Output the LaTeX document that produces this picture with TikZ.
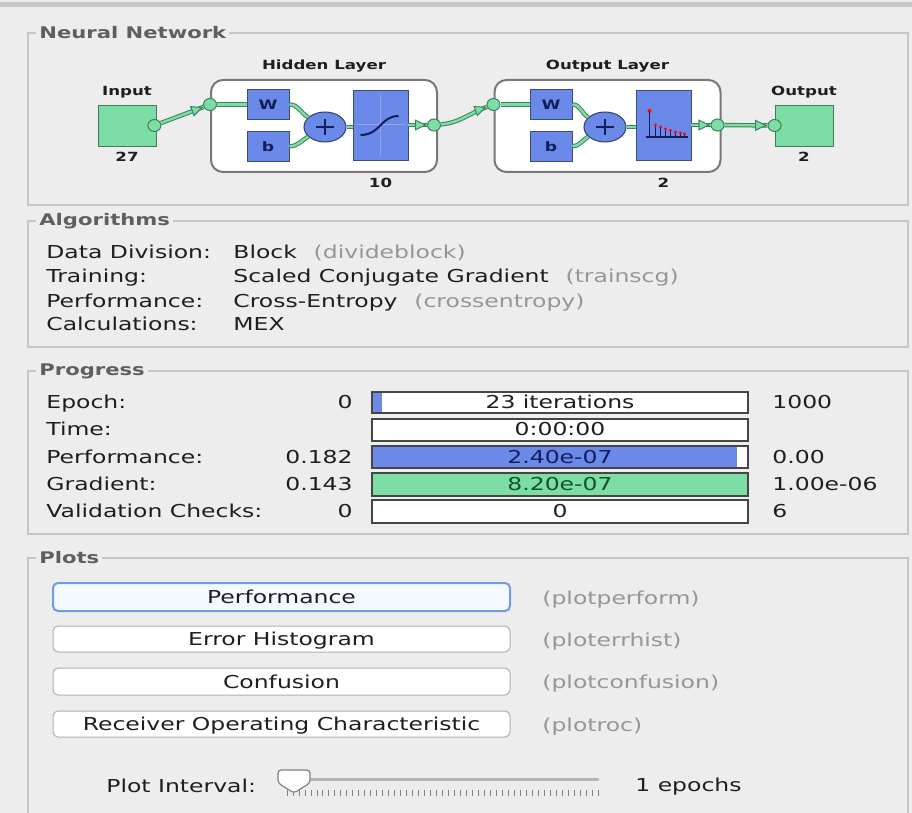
\documentclass[tikz,border=0pt]{standalone}
\usepackage{fontspec}
\usepackage{xcolor}
\usepackage{tikz}
\usetikzlibrary{
    shapes,
    positioning
}
\usetikzlibrary{arrows.meta,decorations.markings}
\newfontfamily\uifont[FakeStretch=1.32]{DejaVu Sans}

\definecolor{winbg}{RGB}{237,237,237}
\definecolor{etch}{RGB}{198,198,198}
\definecolor{topbar}{RGB}{200,200,200}
\definecolor{txtdark}{RGB}{30,30,30}
\definecolor{txtgray}{RGB}{150,150,150}
\definecolor{titlegray}{RGB}{95,95,95}
\definecolor{nngreen}{RGB}{124,222,165}
\definecolor{nnblue}{RGB}{106,137,232}
\definecolor{nnnavy}{RGB}{20,30,90}
\definecolor{wireedge}{RGB}{60,130,90}
\definecolor{layergray}{RGB}{120,120,120}
\definecolor{bardark}{RGB}{70,70,70}
\definecolor{btngray}{RGB}{175,175,175}
\definecolor{btnblue}{RGB}{110,155,225}
\definecolor{btnfill}{RGB}{244,249,255}
\definecolor{gradtext}{RGB}{20,80,40}
\definecolor{slidergray}{RGB}{180,180,180}

\tikzset{panel/.style={
    draw=etch,
    line width=0.7pt,
}}
\tikzset{paneltitle/.style={
    fill=winbg,
    text=titlegray,
    font=\uifont\bfseries\fontsize{8}{9}\selectfont,
    inner sep=1.5pt,
    anchor=west,
}}
\tikzset{lbl/.style={
    text=txtdark,
    font=\uifont\fontsize{8.9}{10}\selectfont,
    inner sep=0pt,
    anchor=base west,
}}
\tikzset{fname/.style={
    lbl,
    text=txtgray,
}}
\tikzset{val/.style={
    lbl,
    anchor=base east,
}}
\tikzset{bartext/.style={
    lbl,
    anchor=base,
}}
\tikzset{bar/.style={
    draw=bardark,
    fill=white,
    line width=0.6pt,
}}
\tikzset{button/.style={
    draw=btngray,
    fill=white,
    line width=0.5pt,
    rounded corners=2.5pt,
}}
\tikzset{nnlabel/.style={
    text=txtdark,
    font=\uifont\bfseries\fontsize{6.3}{7}\selectfont,
    inner sep=1pt,
}}
\tikzset{iobox/.style={
    draw=nngreen!55!black,
    fill=nngreen,
    line width=0.4pt,
    minimum width=29pt,
    minimum height=20.5pt,
}}
\tikzset{layer/.style={
    draw=layergray,
    fill=white,
    line width=1pt,
    rounded corners=6pt,
    minimum width=113pt,
    minimum height=46pt,
}}
\tikzset{weight/.style={
    draw=nnblue!55!black,
    fill=nnblue,
    line width=0.4pt,
    minimum width=21pt,
    minimum height=15pt,
    inner sep=0pt,
    text=nnnavy,
    font=\uifont\bfseries\fontsize{6.5}{7}\selectfont,
}}
\tikzset{transfer/.style={
    weight,
    minimum width=27.5pt,
    minimum height=35pt,
}}
\tikzset{sum/.style={
    ellipse,
    draw=nnblue!45!black,
    fill=nnblue,
    line width=0.5pt,
    minimum width=21pt,
    minimum height=15pt,
    inner sep=0pt,
}}
\tikzset{plusmark/.style={
    draw=nnnavy,
    line width=0.9pt,
}}
\tikzset{port/.style={
    ellipse,
    draw=wireedge,
    fill=nngreen,
    line width=0.5pt,
    minimum width=6.5pt,
    minimum height=6pt,
    inner sep=0pt,
}}
\tikzset{wire/.style={
    draw=wireedge,
    line width=2.2pt,
    postaction={draw=nngreen, line width=1.2pt},
}}
\tikzset{tipped/.style={
    postaction={decorate, decoration={markings,
        mark=at position 0.99 with {\arrow{Triangle[length=6pt,width=5.5pt,line width=0.5pt,color=wireedge,fill=nngreen]}}}},
}}
\tikzset{axisline/.style={
    draw=nnblue!75!white,
    line width=0.5pt,
}}
\tikzset{sigmoid/.style={
    draw=nnnavy,
    line width=1pt,
}}
\tikzset{stem/.style={
    draw=nnnavy,
    line width=0.6pt,
}}

\begin{document}
\begin{tikzpicture}[x=0.5pt, y=-0.5pt]
    \clip (0,0) rectangle (912,813);
    \fill[winbg] (0,0) rectangle (912,813);
    \fill[topbar] (0,2) rectangle (912,7);

    % group boxes
    \draw[panel] (28,33) rectangle (908,205);
    \draw[panel] (28,221) rectangle (908,347);
    \draw[panel] (28,371) rectangle (908,534);
    \draw[panel] (28,558) rectangle (908,840);
    \node[paneltitle] (nntitle) at (36,33) {Neural Network};
    \node[paneltitle] (algotitle) at (36,221) {Algorithms};
    \node[paneltitle] (progtitle) at (36,371) {Progress};
    \node[paneltitle] (plotstitle) at (36,558) {Plots};

    % network
    \node[iobox] (input) at (127,125.5) {};
    \node[nnlabel, above=2pt of input] (inputlbl) {Input};
    \node[nnlabel, below=1.5pt of input] (inputsize) {27};

    \node[layer] (hidden) at (324,126) {};
    \node[nnlabel, above=2pt of hidden] (hiddenlbl) {Hidden Layer};
    \node[weight] (w1) at (268,104.5) {W};
    \node[weight, below=5.5pt of w1] (b1) {b};
    \node[sum] (plus1) at (325,127) {};
    \node[transfer] (tf1) at (380.5,125) {};
    \node[nnlabel, below=1.5pt] (hiddensize) at (tf1 |- hidden.south) {10};

    \node[layer] (outlayer) at (607.5,126) {};
    \node[nnlabel, above=2pt of outlayer] (outlayerlbl) {Output Layer};
    \node[weight] (w2) at (551,104.5) {W};
    \node[weight, below=5.5pt of w2] (b2) {b};
    \node[sum] (plus2) at (605,127) {};
    \node[transfer] (tf2) at (663.5,125) {};
    \node[nnlabel, below=1.5pt] (outlayersize) at (tf2 |- outlayer.south) {2};

    \node[iobox] (output) at (804,125.5) {};
    \node[nnlabel, above=2pt of output] (outputlbl) {Output};
    \node[nnlabel, below=1.5pt of output] (outputsize) {2};

    \node[port, xshift=-1pt] (inport) at (input.east) {};
    \node[port] (hin) at (hidden.west |- w1) {};
    \node[port, xshift=-2pt] (hout) at (hidden.east |- tf1) {};
    \node[port] (oin) at (outlayer.west |- w2) {};
    \node[port, xshift=-2pt] (oout) at (outlayer.east |- tf2) {};
    \node[port] (outport) at (output.west) {};

    \draw[wire, tipped] (inport) -- (hin);
    \draw[wire] (hin) -- (w1);
    \draw[wire] (w1.east) to[out=0, in=150] (plus1);
    \draw[wire] (b1.east) to[out=0, in=-150] (plus1);
    \draw[wire] (plus1) -- (tf1.west |- plus1);
    \draw[wire, tipped] (tf1) -- (hout);
    \draw[wire, tipped] (hout) to[out=5, in=200] (oin);
    \draw[wire] (oin) -- (w2);
    \draw[wire] (w2.east) to[out=0, in=150] (plus2);
    \draw[wire] (b2.east) to[out=0, in=-150] (plus2);
    \draw[wire] (plus2) -- (tf2.west |- plus2);
    \draw[wire, tipped] (tf2) -- (oout);
    \draw[wire, tipped] (oout) -- (outport);

    \draw[plusmark] ([xshift=-4.5pt]plus1.center) -- ([xshift=4.5pt]plus1.center);
    \draw[plusmark] ([yshift=-4pt]plus1.center) -- ([yshift=4pt]plus1.center);
    \draw[plusmark] ([xshift=-4.5pt]plus2.center) -- ([xshift=4.5pt]plus2.center);
    \draw[plusmark] ([yshift=-4pt]plus2.center) -- ([yshift=4pt]plus2.center);

    % tansig icon
    \begin{scope}[shift={(tf1.center)}]
        \draw[axisline] (-24,0) -- (24,0);
        \draw[axisline] (0,-30) -- (0,30);
        \draw[sigmoid] (-20,10) .. controls (0,10) and (0,-9) .. (18,-9);
    \end{scope}

    % softmax icon
    \begin{scope}[shift={(tf2.center)}]
        \draw[stem] (-18,12) -- (24,12);
        \draw[stem] (-14,12) -- (-14,-14);
        \fill[red] (-14,-14) circle (2);
        \foreach \sx/\sy in {-8/0, -3/2, 2/4, 7/5.5, 12/7, 17/8, 21/9} {
            \draw[stem] (\sx,12) -- (\sx,\sy);
            \fill[red] (\sx,\sy) circle (1.6);
        }
    \end{scope}

    % algorithms
    \node[lbl] (divlbl) at (46,259) {Data Division:};
    \node[lbl] (divval) at (233,259) {Block};
    \node[fname, base right=8pt of divval] (divfn) {(divideblock)};
    \node[lbl] (trainlbl) at (46,283) {Training:};
    \node[lbl] (trainval) at (233,283) {Scaled Conjugate Gradient};
    \node[fname, base right=8pt of trainval] (trainfn) {(trainscg)};
    \node[lbl] (perflbl) at (46,307) {Performance:};
    \node[lbl] (perfval) at (233,307) {Cross-Entropy};
    \node[fname, base right=8pt of perfval] (perffn) {(crossentropy)};
    \node[lbl] (calclbl) at (46,331) {Calculations:};
    \node[lbl] (calcval) at (233,331) {MEX};

    % progress
    \draw[bar] (372,392) rectangle (748,413);
    \fill[nnblue] (372.6,392.6) rectangle (382,412.4);
    \draw[bar] (372,419) rectangle (748,441);
    \draw[bar] (372,446) rectangle (748,468);
    \fill[nnblue] (372.6,446.6) rectangle (737,467.4);
    \draw[bar, fill=nngreen] (372,473) rectangle (748,496);
    \draw[bar] (372,500) rectangle (748,523);

    \node[lbl] (epochlbl) at (46,408.5) {Epoch:};
    \node[val] (epochmin) at (353,408.5) {0};
    \node[bartext] (epochbar) at (560,408.5) {23 iterations};
    \node[lbl] (epochmax) at (772,408.5) {1000};

    \node[lbl] (timelbl) at (46,436) {Time:};
    \node[bartext] (timebar) at (560,436) {0:00:00};

    \node[lbl] (plbl) at (46,463) {Performance:};
    \node[val] (pmin) at (353,463) {0.182};
    \node[bartext, text=nnnavy] (pbar) at (560,463) {2.40e-07};
    \node[lbl] (pmax) at (772,463) {0.00};

    \node[lbl] (glbl) at (46,490.5) {Gradient:};
    \node[val] (gmin) at (353,490.5) {0.143};
    \node[bartext, text=gradtext] (gbar) at (560,490.5) {8.20e-07};
    \node[lbl] (gmax) at (772,490.5) {1.00e-06};

    \node[lbl] (vlbl) at (46,517.5) {Validation Checks:};
    \node[val] (vmin) at (353,517.5) {0};
    \node[bartext] (vbar) at (560,517.5) {0};
    \node[lbl] (vmax) at (772,517.5) {6};

    % plots
    \draw[button, draw=btnblue, line width=1pt, fill=btnfill] (53,583) rectangle (510,611);
    \draw[button] (53,626) rectangle (510,652);
    \draw[button] (53,668) rectangle (510,695);
    \draw[button] (53,711) rectangle (510,737);
    \node[bartext] (perfbtn) at (281.5,603.5) {Performance};
    \node[fname] (perfplot) at (542,604) {(plotperform)};
    \node[bartext] (histbtn) at (281.5,645.5) {Error Histogram};
    \node[fname] (histplot) at (542,646) {(ploterrhist)};
    \node[bartext] (confbtn) at (281.5,688) {Confusion};
    \node[fname] (confplot) at (542,688.5) {(plotconfusion)};
    \node[bartext] (rocbtn) at (281.5,730.5) {Receiver Operating Characteristic};
    \node[fname] (rocplot) at (542,731) {(plotroc)};

    % slider
    \node[lbl] (intervallbl) at (106,792) {Plot Interval:};
    \draw[slidergray, line width=1.5pt, line cap=round] (300,779) -- (598,779);
    \foreach \i in {0,...,52} {
        \draw[gray, line width=0.4pt] ({287+\i*5.98},790) -- ++(0,6);
    }
    \draw[gray, line width=0.6pt, fill=white, rounded corners=1.5pt]
        (278,770) -- (310,770) -- (310,783) -- (294,793) -- (278,783) -- cycle;
    \node[lbl] (epochsval) at (635,791) {1 epochs};
\end{tikzpicture}
\end{document}
